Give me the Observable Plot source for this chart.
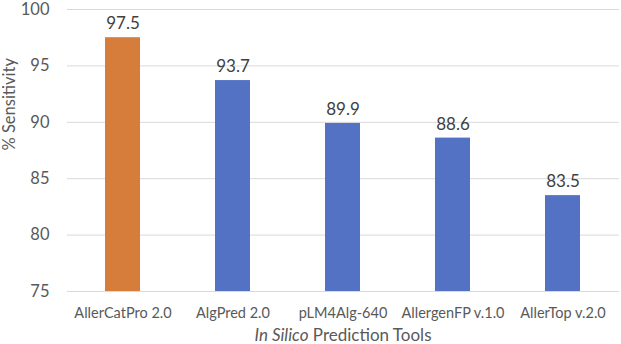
<!DOCTYPE html>
<html>
<head>
<meta charset="utf-8">
<script src="https://cdn.jsdelivr.net/npm/d3@7"></script>
<script src="https://cdn.jsdelivr.net/npm/@observablehq/plot@0.6"></script>
<style>
  html, body { margin: 0; padding: 0; background: #fff; }
</style>
</head>
<body>
<div id="chart"></div>
<script>
const tools = ["AllerCatPro 2.0", "AlgPred 2.0", "pLM4Alg-640", "AllergenFP v.1.0", "AllerTop v.2.0"];
const sensitivity = [97.5, 93.7, 89.9, 88.6, 83.5];
const highlighted = ["AllerCatPro 2.0"];
const yTicks = [75, 80, 85, 90, 95, 100];
const yLabel = "% Sensitivity";
const xLabelItalic = "In Silico";
const xLabelRest = " Prediction Tools";

const data = tools.map((t, i) => ({tool: t, value: sensitivity[i], hi: highlighted.includes(t)}));

const font = "Lato, 'Open Sans', sans-serif";
const plot = Plot.plot({
  width: 621,
  height: 344,
  marginLeft: 67,
  marginRight: 2,
  marginTop: 9,
  marginBottom: 53,
  style: {fontFamily: font, color: "#595959", background: "#fff"},
  x: {domain: tools, paddingInner: 0.68, paddingOuter: 0.34, label: null},
  y: {domain: [75, 100], ticks: yTicks, label: null},
  marks: [
    Plot.gridY(yTicks, {stroke: "#d9d9d9", strokeOpacity: 1, strokeWidth: 1}),
    Plot.barY(data, {x: "tool", y1: () => 75, y2: "value", fill: d => d.hi ? "#D67D3C" : "#5472C4"}),
    Plot.text(data, {x: "tool", y: "value", text: d => d.value.toFixed(1), dy: -14, fontSize: 17, fill: "#404040"}),
    Plot.axisX({tickSize: 0, tickPadding: 16, fontSize: 14.5, label: null}),
    Plot.axisY(yTicks, {tickSize: 0, tickPadding: 18, fontSize: 16.5, label: null}),
    Plot.text([yLabel], {frameAnchor: "left", rotate: -90, dx: -58, fontSize: 16.5, fill: "#595959"})
  ]
});

const svg = d3.select(plot);
const xr = plot.scale("x").range;
const cx = (xr[0] + xr[1]) / 2;
const t = svg.append("text")
  .attr("x", cx)
  .attr("y", 341)
  .attr("text-anchor", "middle")
  .attr("font-size", 17)
  .attr("fill", "#595959")
  .attr("font-family", font);
t.append("tspan").attr("font-style", "italic").text(xLabelItalic);
t.append("tspan").text(xLabelRest);

document.getElementById("chart").appendChild(plot);
</script>
</body>
</html>
